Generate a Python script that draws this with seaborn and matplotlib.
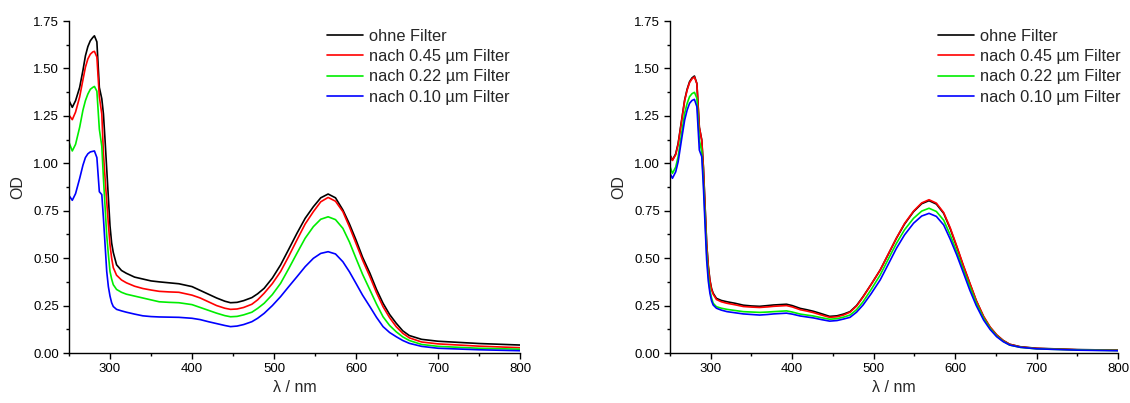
import matplotlib
matplotlib.use("Agg")
import matplotlib.pyplot as plt
from matplotlib.ticker import MultipleLocator, FormatStrFormatter
import seaborn as sns

# Linke Messreihe (ohne / nach Filter)
wl_left = [250, 254, 258, 263, 267, 270, 273, 276, 279, 281, 284, 287, 290, 292, 294, 296,
           298, 300, 302, 304, 308, 314, 320, 330, 340, 350, 360, 372, 384, 400, 410, 420,
           430, 440, 447, 455, 463, 473, 480, 488, 498, 508, 518, 528, 538, 548, 557, 566,
           575, 584, 592, 600, 608, 617, 625, 633, 641, 649, 657, 665, 680, 700, 750, 800]
left_ohne = [1.33, 1.295, 1.33, 1.40, 1.49, 1.566, 1.615, 1.646, 1.663, 1.672, 1.64, 1.40,
             1.34, 1.26, 1.12, 0.97, 0.82, 0.67, 0.58, 0.53,
             0.465, 0.435, 0.42, 0.40, 0.39, 0.38, 0.375, 0.37, 0.365,
             0.35, 0.33, 0.31, 0.29, 0.273, 0.265,
             0.267, 0.276, 0.292, 0.312, 0.341, 0.395, 0.464, 0.547, 0.631, 0.71, 0.771, 0.818,
             0.838, 0.818, 0.754, 0.68, 0.596, 0.505, 0.42, 0.335, 0.262, 0.203, 0.157, 0.117,
             0.092, 0.072, 0.062, 0.05, 0.042]
left_045 = [1.254, 1.23, 1.27, 1.35, 1.44, 1.506, 1.55, 1.575, 1.587, 1.59, 1.56, 1.35,
            1.26, 1.05, 0.92, 0.80, 0.68, 0.57, 0.50, 0.45,
            0.41, 0.385, 0.37, 0.352, 0.34, 0.332, 0.325, 0.322, 0.32,
            0.305, 0.29, 0.27, 0.25, 0.236, 0.23,
            0.232, 0.24, 0.257, 0.28, 0.315, 0.366, 0.429, 0.51, 0.596, 0.68, 0.745, 0.797,
            0.82, 0.80, 0.745, 0.665, 0.578, 0.49, 0.402, 0.318, 0.244, 0.186, 0.139, 0.104,
            0.08, 0.058, 0.048, 0.036, 0.028]
left_022 = [1.11, 1.065, 1.10, 1.19, 1.28, 1.33, 1.365, 1.39, 1.40, 1.405, 1.38, 1.18,
            1.09, 0.92, 0.77, 0.62, 0.52, 0.43, 0.39, 0.36,
            0.335, 0.32, 0.31, 0.30, 0.29, 0.28, 0.27, 0.267, 0.265,
            0.255, 0.24, 0.225, 0.21, 0.197, 0.191,
            0.193, 0.201, 0.215, 0.235, 0.262, 0.308, 0.367, 0.445, 0.526, 0.605, 0.666, 0.705,
            0.718, 0.703, 0.657, 0.585, 0.499, 0.415, 0.332, 0.258, 0.191, 0.145, 0.112, 0.085,
            0.066, 0.045, 0.035, 0.025, 0.02]
left_010 = [0.83, 0.805, 0.84, 0.92, 0.99, 1.03, 1.05, 1.06, 1.063, 1.065, 1.03, 0.85,
            0.835, 0.71, 0.57, 0.43, 0.35, 0.30, 0.265, 0.245,
            0.23, 0.222, 0.215, 0.205, 0.196, 0.192, 0.19, 0.189, 0.188,
            0.183, 0.176, 0.165, 0.155, 0.145, 0.139,
            0.142, 0.15, 0.165, 0.183, 0.209, 0.25, 0.297, 0.35, 0.402, 0.455, 0.499, 0.525,
            0.534, 0.522, 0.481, 0.428, 0.367, 0.305, 0.244, 0.188, 0.139, 0.108, 0.086, 0.066,
            0.051, 0.035, 0.025, 0.017, 0.012]

# Rechte Messreihe
wl_right = [250, 253, 257, 260, 264, 268, 271, 274, 277, 280, 283, 286, 289, 291, 293, 295,
            297, 299, 301, 303, 307, 313, 320, 330, 340, 350, 360, 370, 377, 385, 393, 400,
            410, 418, 426, 436, 446, 455, 463, 471, 479, 487, 497, 508, 518, 528, 538, 549,
            559, 568, 577, 586, 594, 602, 610, 618, 626, 635, 643, 651, 659, 667, 680, 700,
            750, 800]
right_ohne = [1.044, 1.017, 1.05, 1.105, 1.22, 1.334, 1.39, 1.43, 1.45, 1.46, 1.42, 1.19,
              1.123, 0.98, 0.78, 0.578, 0.46, 0.385, 0.34, 0.315,
              0.288, 0.277, 0.27, 0.262, 0.252, 0.248, 0.246, 0.25, 0.253, 0.255, 0.257, 0.25,
              0.235, 0.228, 0.22, 0.207, 0.193,
              0.196, 0.205, 0.218, 0.25, 0.297, 0.362, 0.437, 0.52, 0.605, 0.68, 0.745, 0.787,
              0.803, 0.785, 0.736, 0.655, 0.56, 0.46, 0.367, 0.275, 0.191, 0.135, 0.095, 0.066,
              0.046, 0.033, 0.025, 0.018, 0.015]
right_045 = [1.04, 1.015, 1.045, 1.10, 1.215, 1.33, 1.385, 1.425, 1.445, 1.455, 1.42, 1.19,
             1.12, 0.975, 0.775, 0.575, 0.455, 0.38, 0.335, 0.31,
             0.282, 0.27, 0.262, 0.254, 0.245, 0.242, 0.24, 0.243, 0.246, 0.248, 0.25, 0.243,
             0.228, 0.221, 0.213, 0.2, 0.188,
             0.191, 0.2, 0.215, 0.247, 0.295, 0.362, 0.437, 0.522, 0.606, 0.683, 0.748, 0.791,
             0.808, 0.79, 0.74, 0.66, 0.564, 0.464, 0.37, 0.277, 0.193, 0.137, 0.096, 0.066,
             0.046, 0.032, 0.024, 0.017, 0.014]
right_022 = [0.982, 0.947, 0.98, 1.035, 1.15, 1.264, 1.315, 1.351, 1.367, 1.374, 1.343, 1.123,
             1.061, 0.912, 0.72, 0.526, 0.41, 0.332, 0.29, 0.262,
             0.244, 0.236, 0.23, 0.224, 0.218, 0.216, 0.214, 0.216, 0.218, 0.22, 0.222, 0.216,
             0.205, 0.2, 0.195, 0.186, 0.178,
             0.181, 0.189, 0.20, 0.228, 0.27, 0.335, 0.411, 0.495, 0.578, 0.65, 0.71, 0.748,
             0.763, 0.746, 0.70, 0.622, 0.534, 0.44, 0.35, 0.263, 0.183, 0.13, 0.09, 0.062,
             0.042, 0.03, 0.022, 0.016, 0.013]
right_010 = [0.947, 0.921, 0.955, 1.008, 1.12, 1.228, 1.28, 1.316, 1.331, 1.337, 1.298, 1.07,
             1.035, 0.877, 0.68, 0.49, 0.38, 0.315, 0.275, 0.253,
             0.236, 0.226, 0.218, 0.212, 0.206, 0.203, 0.20, 0.203, 0.206, 0.208, 0.21, 0.205,
             0.195, 0.19, 0.185, 0.176, 0.168,
             0.171, 0.179, 0.188, 0.215, 0.253, 0.313, 0.385, 0.468, 0.552, 0.623, 0.684, 0.722,
             0.736, 0.72, 0.675, 0.6, 0.517, 0.425, 0.332, 0.25, 0.174, 0.124, 0.086, 0.06,
             0.042, 0.03, 0.022, 0.015, 0.012]

labels = ["ohne Filter", "nach 0.45 µm Filter", "nach 0.22 µm Filter", "nach 0.10 µm Filter"]
colors = ["#000000", "#ff0000", "#00ee00", "#0000ff"]

sns.set_style("ticks")
plt.rcParams['font.family'] = ['Liberation Sans', 'DejaVu Sans']

fig = plt.figure(figsize=(11.3, 4.03), dpi=100)
ax1 = fig.add_axes([69 / 1130, 50 / 403, 451 / 1130, 332 / 403])
ax2 = fig.add_axes([670 / 1130, 50 / 403, 448 / 1130, 332 / 403])

panels = [
    (ax1, wl_left, [left_ohne, left_045, left_022, left_010], 0.572),
    (ax2, wl_right, [right_ohne, right_045, right_022, right_010], 0.598),
]

for ax, wl, series, leg_x in panels:
    for vals, lab, col in zip(series, labels, colors):
        sns.lineplot(x=wl, y=vals, ax=ax, color=col, label=lab, lw=1.2)
    ax.set_xlim(250, 800)
    ax.set_ylim(0, 1.75)
    ax.xaxis.set_major_locator(MultipleLocator(100))
    ax.xaxis.set_minor_locator(MultipleLocator(50))
    ax.yaxis.set_major_locator(MultipleLocator(0.25))
    ax.yaxis.set_minor_locator(MultipleLocator(0.125))
    ax.yaxis.set_major_formatter(FormatStrFormatter('%.2f'))
    ax.tick_params(which='major', direction='out', length=4, width=1, labelsize=9.5,
                   colors='black', pad=3)
    ax.tick_params(which='minor', direction='out', length=2.5, width=1, colors='black')
    for s in ['top', 'right']:
        ax.spines[s].set_visible(False)
    for s in ['left', 'bottom']:
        ax.spines[s].set_linewidth(1.0)
        ax.spines[s].set_color('black')
    ax.set_xlabel("λ / nm", fontsize=11.5, labelpad=4)
    ax.set_ylabel("OD", fontsize=11.5, labelpad=6)
    ax.legend(loc='upper left', bbox_to_anchor=(leg_x, 0.976), frameon=False,
              fontsize=11.8, handlelength=2.2, handletextpad=0.35,
              labelspacing=0.32, borderpad=0, borderaxespad=0)

plt.savefig("out.png", dpi=100)
